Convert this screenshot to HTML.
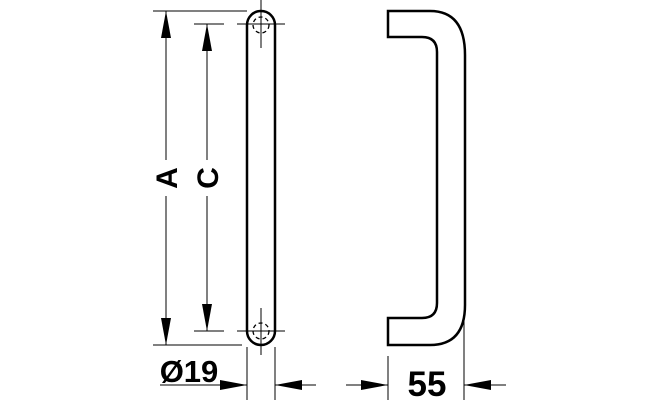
<!DOCTYPE html>
<html><head><style>html,body{margin:0;padding:0;background:#fff}svg{display:block}</style></head>
<body>
<svg width="660" height="400" viewBox="0 0 660 400" xmlns="http://www.w3.org/2000/svg">
<g stroke="#000" fill="none">
<path d="M247,25 A14,14 0 0 1 275,25 L275,331 A14,14 0 0 1 247,331 Z" stroke-width="2.5"/>
<circle cx="261" cy="25" r="8" stroke-width="1.3" stroke-dasharray="4,3"/>
<circle cx="261" cy="331" r="8" stroke-width="1.3" stroke-dasharray="4,3"/>
<g stroke-width="1">
<line x1="261" y1="0" x2="261" y2="48"/>
<line x1="237" y1="24" x2="285" y2="24"/>
<line x1="261" y1="308" x2="261" y2="355"/>
<line x1="237" y1="331" x2="285" y2="331"/>
<line x1="153" y1="11" x2="247" y2="11"/>
<line x1="153" y1="345" x2="242" y2="345"/>
<line x1="166" y1="11" x2="166" y2="160"/>
<line x1="166" y1="196" x2="166" y2="345"/>
<line x1="194" y1="24" x2="224" y2="24"/>
<line x1="194" y1="331" x2="224" y2="331"/>
<line x1="207" y1="24" x2="207" y2="160"/>
<line x1="207" y1="196" x2="207" y2="331"/>
<line x1="247" y1="347" x2="247" y2="400"/>
<line x1="275" y1="347" x2="275" y2="400"/>
<line x1="160" y1="385" x2="247" y2="385"/>
<line x1="275" y1="385" x2="316" y2="385"/>
<line x1="388" y1="356" x2="388" y2="400"/>
<line x1="464" y1="318" x2="464" y2="400"/>
<line x1="346" y1="385" x2="388" y2="385"/>
<line x1="464" y1="385" x2="506" y2="385"/>
</g>
<path d="M388,11 L430,11 Q465,11 465,55 L465,305 Q465,345 430,345 L388,345 L388,318 L422,318 Q437,318 437,303 L437,52 Q437,37 422,37 L388,37 Z" stroke-width="2.5"/>
</g>
<g fill="#000">
<polygon points="166,11 161,38 171,38"/>
<polygon points="166,345 161,318 171,318"/>
<polygon points="207,24 202,51 212,51"/>
<polygon points="207,331 202,304 212,304"/>
<polygon points="247,385 220,380 220,390"/>
<polygon points="275,385 302,380 302,390"/>
<polygon points="388,385 361,380 361,390"/>
<polygon points="464,385 491,380 491,390"/>
</g>
<g font-family="Liberation Sans, sans-serif" font-weight="bold" fill="#000" text-anchor="middle">
<text transform="translate(177,178) rotate(-90)" font-size="30">A</text>
<text transform="translate(218,178) rotate(-90)" font-size="30">C</text>
<text x="189" y="382" font-size="31">Ø19</text>
<text x="427" y="396" font-size="35">55</text>
</g>
</svg>
</body></html>
